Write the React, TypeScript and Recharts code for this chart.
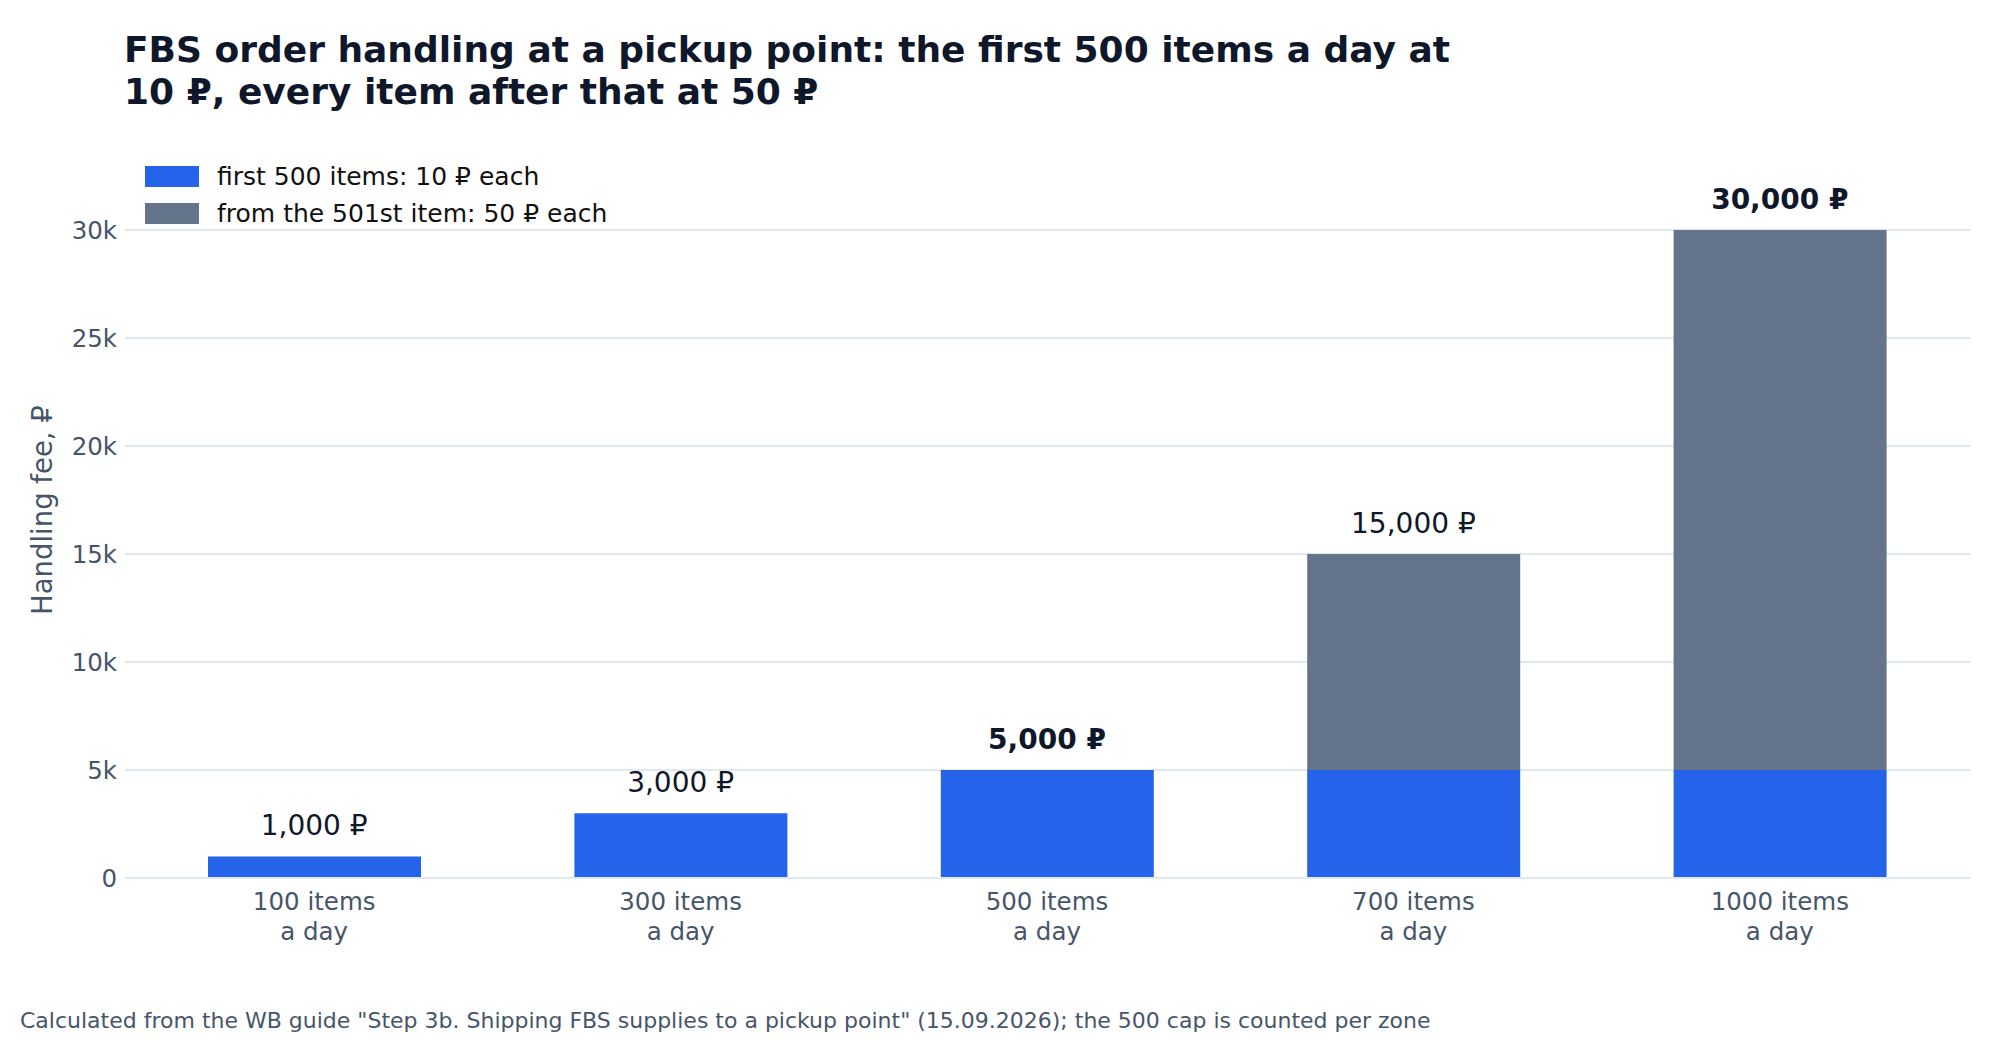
import { Bar, CartesianGrid, ComposedChart, LabelList, Legend, Line, XAxis, YAxis } from "recharts";

// fee per day at a pickup point, split by tariff tier
const itemCounts = [100, 300, 500, 700, 1000];
const first500Fee = [1000, 3000, 5000, 5000, 5000];
const after500Fee = [0, 0, 0, 10000, 25000];
const boldTotals = [false, false, true, false, true];
const yTicks = [0, 5000, 10000, 15000, 20000, 25000, 30000];

const seriesNames = {
  first: "first 500 items: 10 ₽ each",
  after: "from the 501st item: 50 ₽ each",
};

const BLUE = "#2563eb";
const SLATE = "#64748b";
const INK = "#0f172a";
const MUTED = "#475569";
const FONT = "'DejaVu Sans', sans-serif";

type Row = { name: string; first: number; after: number; total: number; bold: boolean };

const data: Row[] = itemCounts.map((count, i) => ({
  name: `${count} items`,
  first: first500Fee[i],
  after: after500Fee[i],
  total: first500Fee[i] + after500Fee[i],
  bold: boldTotals[i],
}));

const formatTick = (v: number) => (v === 0 ? "0" : `${v / 1000}k`);
const formatRub = (v: number) => `${v.toLocaleString("en-US")} ₽`;

function CategoryTick({ x, y, payload }: any) {
  return (
    <text x={x} y={y} textAnchor="middle" fill={MUTED} fontSize={24.5} fontFamily={FONT}>
      <tspan x={x} dy={24}>{payload.value}</tspan>
      <tspan x={x} dy={30}>a day</tspan>
    </text>
  );
}

function TotalLabel({ x, y, index }: any) {
  const row = data[index];
  return (
    <text
      x={x}
      y={y - 31}
      textAnchor="middle"
      dominantBaseline="central"
      fill={INK}
      fontSize={28}
      fontWeight={row.bold ? "bold" : "normal"}
      fontFamily={FONT}
    >
      {formatRub(row.total)}
    </text>
  );
}

function LegendBox() {
  const items = [
    { name: seriesNames.first, color: BLUE },
    { name: seriesNames.after, color: SLATE },
  ];
  return (
    <div style={{ fontFamily: FONT, fontSize: 25, color: "#111" }}>
      {items.map((item) => (
        <div key={item.name} style={{ display: "flex", alignItems: "center", height: 37 }}>
          <span style={{ display: "inline-block", width: 54, height: 21, background: item.color, marginRight: 18 }} />
          <span>{item.name}</span>
        </div>
      ))}
    </div>
  );
}

export default function App() {
  return (
    <div style={{ position: "relative", width: 2000, height: 1040, background: "#fff", fontFamily: FONT }}>
      <style>{`body{margin:0}`}</style>
      <div
        style={{
          position: "absolute",
          left: 124,
          top: 29,
          fontSize: 36,
          lineHeight: "42px",
          fontWeight: "bold",
          color: INK,
          width: 1700,
        }}
      >
        FBS order handling at a pickup point: the first 500 items a day at
        <br />
        10 ₽, every item after that at 50 ₽
      </div>
      <ComposedChart
        width={2000}
        height={1040}
        data={data}
        margin={{ top: 230, right: 30, bottom: 82, left: 45 }}
        style={{ position: "absolute", left: 0, top: 0 }}
      >
        <CartesianGrid vertical={false} stroke="#e2e8f0" strokeWidth={2} />
        <XAxis
          dataKey="name"
          axisLine={{ stroke: "#e2e8f0", strokeWidth: 2 }}
          tickLine={false}
          height={80}
          padding={{ left: 6, right: 7 }}
          tick={<CategoryTick />}
          interval={0}
        />
        <YAxis
          width={80}
          domain={[0, 30000]}
          ticks={yTicks}
          tickFormatter={formatTick}
          axisLine={false}
          tickLine={false}
          tick={{ fill: MUTED, fontSize: 24.5, fontFamily: FONT }}
          label={{
            value: "Handling fee, ₽",
            angle: -90,
            position: "insideLeft",
            fill: MUTED,
            fontSize: 27.5,
            fontFamily: FONT,
            dx: -8,
            dy: 61,
          }}
        />
        <Legend
          layout="vertical"
          align="center"
          verticalAlign="middle"
          content={<LegendBox />}
          wrapperStyle={{ top: 158, left: 145, width: 700 }}
        />
        <Bar dataKey="first" stackId="fee" fill={BLUE} barSize={213} name={seriesNames.first} isAnimationActive={false} />
        <Bar dataKey="after" stackId="fee" fill={SLATE} barSize={213} name={seriesNames.after} isAnimationActive={false} />
        <Line
          dataKey="total"
          stroke="none"
          dot={false}
          activeDot={false}
          legendType="none"
          isAnimationActive={false}
        >
          <LabelList dataKey="total" content={<TotalLabel />} />
        </Line>
      </ComposedChart>
      <div style={{ position: "absolute", left: 20, top: 1008, fontSize: 22, color: MUTED }}>
        Calculated from the WB guide "Step 3b. Shipping FBS supplies to a pickup point" (15.09.2026); the 500 cap is
        counted per zone
      </div>
    </div>
  );
}
